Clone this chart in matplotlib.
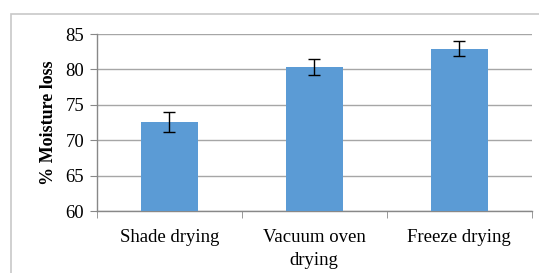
import matplotlib
matplotlib.use("Agg")
import matplotlib.pyplot as plt
from matplotlib.patches import Rectangle
import numpy as np

categories = ["Shade drying", "Vacuum oven\ndrying", "Freeze drying"]
values = [72.6, 80.35, 82.9]
errors = [1.4, 1.15, 1.05]
yticks = [60, 65, 70, 75, 80, 85]

plt.rcParams['font.family'] = ['Liberation Serif', 'DejaVu Serif']

fig = plt.figure(figsize=(5.39, 2.73), dpi=100)
fig.patches.append(Rectangle((11/539, -0.01), 1.0, 1 - 14/273 + 0.01,
                             transform=fig.transFigure, fill=False,
                             edgecolor='#c8c8c8', linewidth=1.2))
ax = fig.add_axes([96.7/539, 1 - 211/273, 435/539, (211 - 34)/273])

x = np.arange(len(categories))
ax.bar(x, values, width=0.395, color='#5b9bd5', zorder=3,
       yerr=errors, error_kw=dict(ecolor='black', elinewidth=1.0, capsize=4, capthick=1.0, zorder=4))

ax.set_xlim(-0.5, len(categories) - 0.5)
ax.set_ylim(60, 85)
ax.set_yticks(yticks)
ax.yaxis.grid(True, color='#a6a6a6', linewidth=1.0, zorder=0)
ax.set_axisbelow(True)

for s in ['top', 'right']:
    ax.spines[s].set_visible(False)
for s in ['left', 'bottom']:
    ax.spines[s].set_color('#888888')
    ax.spines[s].set_linewidth(1.0)

ax.set_xticks(x)
ax.set_xticklabels(categories, fontsize=13.5, linespacing=1.45)
ax.tick_params(axis='x', length=0, pad=13)
ax.set_xticks(np.arange(-0.5, len(categories), 1.0), minor=True)
ax.tick_params(axis='x', which='minor', length=5, color='#888888')
ax.tick_params(axis='y', length=5, color='#888888', labelsize=13.5, pad=4)

ax.set_ylabel('% Moisture loss', fontsize=13, fontweight='bold', labelpad=6)

fig.savefig('out.png', dpi=100)
